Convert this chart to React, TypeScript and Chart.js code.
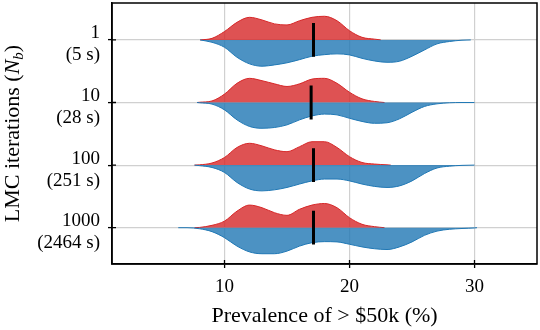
import React, { useEffect, useRef } from 'react';
import { Chart, registerables } from 'chart.js';

Chart.register(...registerables);

// ---------- data ----------
const rowLabels: string[][] = [
  ['1', '(5 s)'],
  ['10', '(28 s)'],
  ['100', '(251 s)'],
  ['1000', '(2464 s)'],
];
const xTicks = [10, 20, 30];

// common evaluation grid of the density estimates (prevalence, %)
const densityGrid = [7, 8, 9, 10, 11, 12, 13, 14, 15, 16, 17, 18, 19, 20, 21, 22, 23, 24, 25, 26, 27, 28, 29, 30];

// relative density, upper (red) halves
const redDensity1 = [0, 0, 0.06, 0.32, 0.67, 0.86, 0.76, 0.61, 0.57, 0.73, 0.86, 0.9, 0.73, 0.35, 0.1, 0.03, 0, 0, 0, 0, 0, 0, 0, 0];
const redDensity2 = [0, 0.01, 0.06, 0.32, 0.73, 0.92, 0.83, 0.71, 0.61, 0.71, 0.89, 0.92, 0.73, 0.39, 0.14, 0.04, 0, 0, 0, 0, 0, 0, 0, 0];
const redDensity3 = [0, 0.01, 0.08, 0.29, 0.67, 0.83, 0.73, 0.58, 0.51, 0.7, 0.89, 0.89, 0.67, 0.32, 0.1, 0.04, 0.01, 0, 0, 0, 0, 0, 0, 0];
const redDensity4 = [0, 0.01, 0.09, 0.25, 0.63, 0.86, 0.76, 0.57, 0.47, 0.7, 0.86, 0.92, 0.76, 0.38, 0.13, 0.04, 0, 0, 0, 0, 0, 0, 0, 0];

// relative density, lower (blue) halves
const blueDensity1 = [0, 0, 0.09, 0.28, 0.66, 0.91, 1.0, 0.95, 0.87, 0.75, 0.62, 0.56, 0.53, 0.57, 0.7, 0.8, 0.85, 0.81, 0.62, 0.38, 0.15, 0.06, 0.01, 0];
const blueDensity2 = [0, 0.01, 0.06, 0.28, 0.66, 0.91, 0.98, 0.95, 0.85, 0.66, 0.51, 0.44, 0.47, 0.6, 0.72, 0.79, 0.77, 0.62, 0.37, 0.15, 0.05, 0.01, 0, 0];
const blueDensity3 = [0, 0.02, 0.09, 0.28, 0.66, 0.91, 0.98, 0.94, 0.85, 0.72, 0.6, 0.53, 0.53, 0.6, 0.72, 0.81, 0.85, 0.79, 0.6, 0.32, 0.11, 0.04, 0.01, 0];
const blueDensity4 = [0, 0.04, 0.15, 0.38, 0.7, 0.92, 0.99, 0.99, 0.89, 0.7, 0.57, 0.53, 0.54, 0.63, 0.73, 0.8, 0.83, 0.73, 0.54, 0.29, 0.13, 0.06, 0.03, 0.01];

const redStart = [8.05, 7.8, 7.6, 7.6];
const redEnd = [22.5, 22.8, 23.3, 22.8];
const blueStart = [8.05, 7.8, 7.6, 6.3];
const blueEnd = [29.7, 30.0, 30.0, 30.2];

const medians = [17.12, 16.93, 17.12, 17.12];

const redDensities = [redDensity1, redDensity2, redDensity3, redDensity4];
const blueDensities = [blueDensity1, blueDensity2, blueDensity3, blueDensity4];

// ---------- styling ----------
const FONT = '"Liberation Serif", "Times New Roman", serif';
const HALF = 0.42; // max half-width of a violin in row units
const MEDIAN_HALF = 0.27;
const RED_FILL = 'rgba(214, 39, 40, 0.8)';
const RED_EDGE = 'rgb(214, 39, 40)';
const BLUE_FILL = 'rgba(31, 119, 180, 0.8)';
const BLUE_EDGE = 'rgb(31, 119, 180)';
const GRID = '#d0d0d0';
const IN_TICK = 4;

function halfPoints(row: number, start: number, end: number, dens: number[], sign: number) {
  const pts: { x: number; y: number }[] = [{ x: start, y: row }];
  densityGrid.forEach((gx, i) => {
    if (gx > start && gx < end) pts.push({ x: gx, y: row + sign * dens[i] * HALF });
  });
  pts.push({ x: end, y: row });
  return pts;
}

const framePlugin = {
  id: 'frame',
  afterDraw(chart: any) {
    const { ctx, chartArea, scales } = chart;
    ctx.save();
    ctx.strokeStyle = '#000';
    ctx.lineWidth = 1.5;
    ctx.strokeRect(chartArea.left, chartArea.top, chartArea.right - chartArea.left, chartArea.bottom - chartArea.top);
    // inward halves of the tick marks
    ctx.lineWidth = 1.3;
    ctx.beginPath();
    xTicks.forEach((v) => {
      const px = scales.x.getPixelForValue(v);
      ctx.moveTo(px, chartArea.bottom);
      ctx.lineTo(px, chartArea.bottom - IN_TICK);
    });
    rowLabels.forEach((_, i) => {
      const py = scales.y.getPixelForValue(i);
      ctx.moveTo(chartArea.left, py);
      ctx.lineTo(chartArea.left + IN_TICK, py);
    });
    ctx.stroke();
    ctx.restore();
  },
};

const yTitlePlugin = {
  id: 'yTitle',
  afterDraw(chart: any) {
    const { ctx, chartArea } = chart;
    const parts = [
      { t: 'LMC iterations (', f: `22px ${FONT}`, dy: 0 },
      { t: 'N', f: `italic 22px ${FONT}`, dy: 0 },
      { t: 'b', f: `italic 15px ${FONT}`, dy: 4 },
      { t: ')', f: `22px ${FONT}`, dy: 0 },
    ];
    ctx.save();
    ctx.translate(19, (chartArea.top + chartArea.bottom) / 2);
    ctx.rotate(-Math.PI / 2);
    ctx.fillStyle = '#000';
    ctx.textBaseline = 'alphabetic';
    ctx.textAlign = 'left';
    let total = 0;
    const widths = parts.map((p) => {
      ctx.font = p.f;
      const w = ctx.measureText(p.t).width;
      total += w;
      return w;
    });
    let x = -total / 2;
    parts.forEach((p, i) => {
      ctx.font = p.f;
      ctx.fillText(p.t, x, p.dy);
      x += widths[i];
    });
    ctx.restore();
  },
};

export default function App() {
  const ref = useRef<HTMLCanvasElement | null>(null);

  useEffect(() => {
    if (!ref.current) return;
    const datasets: any[] = [];
    rowLabels.forEach((_, r) => {
      datasets.push({
        data: halfPoints(r, redStart[r], redEnd[r], redDensities[r], -1),
        borderColor: RED_EDGE,
        backgroundColor: RED_FILL,
        borderWidth: 1,
        fill: { value: r },
        pointRadius: 0,
        cubicInterpolationMode: 'monotone',
        order: 2,
      });
      datasets.push({
        data: halfPoints(r, blueStart[r], blueEnd[r], blueDensities[r], 1),
        borderColor: BLUE_EDGE,
        backgroundColor: BLUE_FILL,
        borderWidth: 1,
        fill: { value: r },
        pointRadius: 0,
        cubicInterpolationMode: 'monotone',
        order: 1,
      });
      datasets.push({
        data: [
          { x: medians[r], y: r - MEDIAN_HALF },
          { x: medians[r], y: r + MEDIAN_HALF },
        ],
        borderColor: '#000',
        borderWidth: 3,
        borderCapStyle: 'butt',
        fill: false,
        pointRadius: 0,
        order: 0,
      });
    });

    const chart = new Chart(ref.current, {
      type: 'line',
      data: { datasets },
      options: {
        animation: false,
        responsive: false,
        devicePixelRatio: 1,
        layout: { padding: { top: 3, right: 3, left: 0, bottom: 0 } },
        plugins: { legend: { display: false }, tooltip: { enabled: false } },
        scales: {
          x: {
            type: 'linear',
            min: 1,
            max: 35,
            afterBuildTicks: (s: any) => {
              s.ticks = xTicks.map((v) => ({ value: v }));
            },
            afterFit: (s: any) => {
              s.height = 66;
              s.paddingLeft = 0;
              s.paddingRight = 0;
            },
            grid: { color: GRID, lineWidth: 1.2, tickColor: '#000', tickLength: 4, tickWidth: 1.3 },
            border: { display: true, color: '#000', width: 1.5 },
            ticks: { color: '#000', font: { family: FONT, size: 19 }, padding: 8, maxRotation: 0 },
            title: {
              display: true,
              text: 'Prevalence of > $50k (%)',
              color: '#000',
              font: { family: FONT, size: 22 },
              padding: { top: 2, bottom: 1 },
            },
          },
          y: {
            type: 'linear',
            min: -0.59,
            max: 3.58,
            reverse: true,
            afterBuildTicks: (s: any) => {
              s.ticks = rowLabels.map((_, i) => ({ value: i }));
            },
            afterFit: (s: any) => {
              s.width = 112;
              s.paddingTop = 0;
              s.paddingBottom = 0;
            },
            grid: { color: GRID, lineWidth: 1.2, tickColor: '#000', tickLength: 4, tickWidth: 1.3 },
            border: { display: true, color: '#000', width: 1.5 },
            ticks: {
              color: '#000',
              font: { family: FONT, size: 19, lineHeight: 1.15 },
              padding: 8,
              labelOffset: 4.5,
              callback: (v: any) => rowLabels[Math.round(Number(v))] ?? '',
            },
          },
        },
      },
      plugins: [framePlugin, yTitlePlugin],
    });
    return () => chart.destroy();
  }, []);

  return (
    <div style={{ position: 'fixed', left: 0, top: 0, width: 540, height: 330, background: '#fff' }}>
      <canvas ref={ref} width={540} height={330} style={{ display: 'block' }} />
    </div>
  );
}
